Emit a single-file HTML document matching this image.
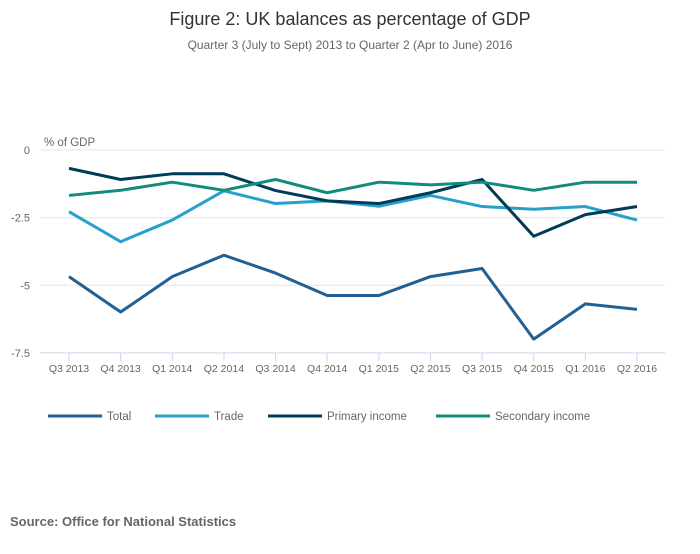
<!DOCTYPE html>
<html><head><meta charset="utf-8"><style>
body{margin:0;background:#fff;font-family:"Liberation Sans",sans-serif;}
</style></head><body>
<svg width="700" height="549" id="c" font-family="Liberation Sans, sans-serif">
<text x="350" y="25" text-anchor="middle" font-size="18" fill="#333">Figure 2: UK balances as percentage of GDP</text>
<text x="350" y="49" text-anchor="middle" font-size="12" fill="#666">Quarter 3 (July to Sept) 2013 to Quarter 2 (Apr to June) 2016</text>
<text x="44" y="146" font-size="11.5" fill="#666">% of GDP</text>
<text x="10" y="526" font-size="13" font-weight="bold" fill="#666">Source: Office for National Statistics</text>
<g id="grid"></g><g id="lines"></g><g id="legend"></g>
</svg>
<script>
const categories=["Q3 2013","Q4 2013","Q1 2014","Q2 2014","Q3 2014","Q4 2014","Q1 2015","Q2 2015","Q3 2015","Q4 2015","Q1 2016","Q2 2016"];
const total=[-4.68,-5.99,-4.68,-3.89,-4.55,-5.38,-5.38,-4.68,-4.38,-6.99,-5.69,-5.89];
const trade=[-2.28,-3.39,-2.59,-1.51,-1.98,-1.88,-2.08,-1.68,-2.09,-2.19,-2.09,-2.59];
const primary=[-0.68,-1.09,-0.88,-0.88,-1.5,-1.88,-1.98,-1.58,-1.09,-3.19,-2.39,-2.09];
const secondary=[-1.68,-1.49,-1.19,-1.49,-1.09,-1.58,-1.19,-1.29,-1.19,-1.49,-1.19,-1.19];
const yTicks=[0,-2.5,-5,-7.5];
const yTickLabels=["0","-2.5","-5","-7.5"];
const seriesNames=["Total","Trade","Primary income","Secondary income"];
const NS="http://www.w3.org/2000/svg";
const x=i=>69+i*(637-69)/11;
const y=v=>150-v*27.05;
function mk(t,a,p){const e=document.createElementNS(NS,t);for(const k in a)e.setAttribute(k,a[k]);p.appendChild(e);return e;}
const grid=document.getElementById('grid');
yTicks.forEach((t,i)=>{
 const l=mk('line',{x1:40,x2:665,y1:y(t),y2:y(t),stroke:i==yTicks.length-1?'#ccd6eb':'#e6e6e6'},grid);
 
 
 const tx=mk('text',{x:30,y:y(t)+4,'text-anchor':'end','font-size':11,fill:'#666'},grid);
 tx.textContent=yTickLabels[i];
 
 
});
categories.forEach((c,i)=>{
 const tk=mk('line',{x1:x(i),x2:x(i),y1:y(-7.5),y2:y(-7.5)+8,stroke:'#ccd6eb'},grid);
 
 
 const t=mk('text',{x:x(i),y:372,'text-anchor':'middle','font-size':10.5,fill:'#666'},grid);
 t.textContent=c;
 
 
});
const data=[total,trade,primary,secondary];
const colors=["#206095","#27a0cc","#003c57","#118c7b"];
const lg=document.getElementById('lines');
data.forEach((s,k)=>{
 const p=mk('path',{d:s.map((v,i)=>(i?'L':'M')+x(i)+','+y(v)).join(''),fill:'none',stroke:colors[k],'stroke-width':3,'stroke-linejoin':'round'},lg);
 
 
});
const leg=document.getElementById('legend');
const lx=[48,155,268,436];
seriesNames.forEach((n,k)=>{
 const g=mk('g',{},leg);
 
 
 mk('line',{x1:lx[k],x2:lx[k]+54,y1:416,y2:416,stroke:colors[k],'stroke-width':3},g);
 const t=mk('text',{x:lx[k]+59,y:420,'font-size':11.5,fill:'#666'},g);
 t.textContent=n;
});
</script>
</body></html>
